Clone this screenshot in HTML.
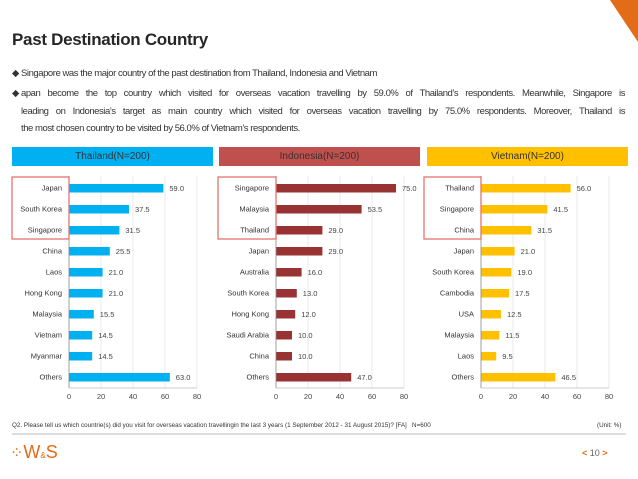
<!DOCTYPE html>
<html><head><meta charset="utf-8"><style>
body{margin:0;width:638px;height:479px;background:#fff;font-family:"Liberation Sans",sans-serif;position:relative;overflow:hidden}
.abs{position:absolute}
.b{font-size:9.5px;color:#333;letter-spacing:-0.45px}
.hdr{position:absolute;top:147px;height:19px;font-size:10px;color:#333;text-align:center;line-height:19px}
.j{text-align:justify;text-align-last:justify;width:604px}
</style></head><body>
<div class="abs" style="right:0;top:0;width:0;height:0;border-top:42px solid #E36C19;border-left:28px solid transparent"></div>
<div class="abs" style="left:12px;top:30px;font-size:17px;font-weight:bold;color:#262626;letter-spacing:-0.3px">Past Destination Country</div>
<div class="abs b" style="left:12px;top:68px">◆ Singapore was the major country of the past destination from Thailand, Indonesia and Vietnam</div>
<div class="abs b" style="left:12px;top:85px;line-height:17.5px">◆</div>
<div class="abs b" style="left:21px;top:85px;line-height:17.5px">
<div class="j">apan become the top country which visited for overseas vacation travelling by 59.0% of Thailand’s respondents. Meanwhile, Singapore is</div>
<div class="j">leading on Indonesia’s target as main country which visited for overseas vacation travelling by 75.0% respondents. Moreover, Thailand is</div>
<div>the most chosen country to be visited by 56.0% of Vietnam’s respondents.</div>
</div>
<div class="hdr" style="left:12px;width:201px;background:#00B0F0">Thailand(N=200)</div>
<div class="hdr" style="left:219px;width:201px;background:#C0504D">Indonesia(N=200)</div>
<div class="hdr" style="left:427px;width:201px;background:#FFC000">Vietnam(N=200)</div>
<svg id="ch" class="abs" style="left:0;top:0" width="638" height="479"></svg>
<div class="abs" style="left:12px;top:422px;font-size:6.3px;color:#333">Q2. Please tell us which countrie(s) did you visit for overseas vacation travellingin the last 3 years (1 September 2012 - 31 August 2015)? [FA]&nbsp;&nbsp; N=600</div>
<div class="abs" style="left:597px;top:422px;font-size:6.3px;color:#333">(Unit: %)</div>
<div class="abs" style="left:12px;top:433px;width:614px;height:2px;background:#ddd"></div>
<div class="abs" style="left:10px;top:442px;font-size:16px;color:#E36C19">⁘<span style="font-size:18px">W<small style="font-size:8px">&amp;</small>S</span></div>
<div class="abs" style="left:582px;top:448px;font-size:9px;color:#666"><span style="color:#E36C19;font-weight:bold">&lt;</span> 10 <span style="color:#E36C19;font-weight:bold">&gt;</span></div>
<script>
const thCats=["Japan","South Korea","Singapore","China","Laos","Hong Kong","Malaysia","Vietnam","Myanmar","Others"];
const thVals=[59.0,37.5,31.5,25.5,21.0,21.0,15.5,14.5,14.5,63.0];
const idCats=["Singapore","Malaysia","Thailand","Japan","Australia","South Korea","Hong Kong","Saudi Arabia","China","Others"];
const idVals=[75.0,53.5,29.0,29.0,16.0,13.0,12.0,10.0,10.0,47.0];
const vnCats=["Thailand","Singapore","China","Japan","South Korea","Cambodia","USA","Malaysia","Laos","Others"];
const vnVals=[56.0,41.5,31.5,21.0,19.0,17.5,12.5,11.5,9.5,46.5];
const ticks=[0,20,40,60,80];
const svg=document.getElementById('ch');const NS='http://www.w3.org/2000/svg';
function mk(t,a){const e=document.createElementNS(NS,t);for(const k in a)e.setAttribute(k,a[k]);svg.appendChild(e);return e;}
function panel(id,x0,cats,vals,color,boxX){
  const sx=v=>x0+v*1.6, sy=i=>188+i*21;
  ticks.forEach(t=>{if(t>0){const g=mk('line',{x1:sx(t),x2:sx(t),y1:176,y2:388,stroke:'#e4e4e4','stroke-width':0.8});
    
    }
    const l=mk('text',{x:sx(t),y:399,'font-size':7.5,'text-anchor':'middle',fill:'#444'});l.textContent=t;
    
    });
  cats.forEach((c,i)=>{
    const r=mk('rect',{x:x0,y:sy(i)-4,width:sx(vals[i])-x0,height:8.5,fill:color});
    
    
    const l=mk('text',{x:x0-7,y:sy(i)+2.5,'font-size':7.5,'text-anchor':'end',fill:'#333'});l.textContent=c;
    
    
    const v=mk('text',{x:sx(vals[i])+6,y:sy(i)+3,'font-size':7.5,fill:'#444'});v.textContent=vals[i].toFixed(1);
    
    
  });
  const a=mk('line',{x1:x0,x2:x0,y1:176,y2:388,stroke:'#888','stroke-width':0.8});
  
  
  const b=mk('line',{x1:x0,x2:sx(80),y1:388,y2:388,stroke:'#bbb','stroke-width':0.8});
  
  
  const hb=mk('rect',{x:boxX,y:177,width:x0-boxX,height:62,fill:'none',stroke:'#E8736E','stroke-width':1.3});
  
  
}
panel('thailand',69,thCats,thVals,'#00B0F0',12);
panel('indonesia',276,idCats,idVals,'#993333',218);
panel('vietnam',481,vnCats,vnVals,'#FFC000',424);
</script>
</body></html>
